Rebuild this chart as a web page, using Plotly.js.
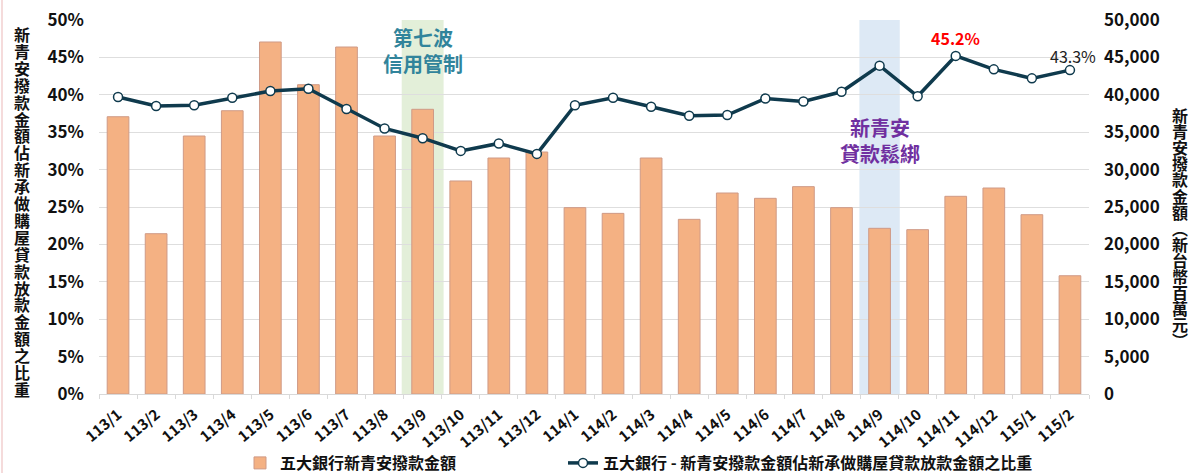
<!DOCTYPE html>
<html>
<head>
<meta charset="utf-8">
<script src="https://cdn.plot.ly/plotly-3.0.1.min.js"></script>
<style>
html,body{margin:0;padding:0;background:#fff;}
#chart{width:1191px;height:473px;}
</style>
</head>
<body>
<div id="chart"></div>
<script>
// ---- data ----
var months = ["113/1","113/2","113/3","113/4","113/5","113/6","113/7","113/8","113/9","113/10","113/11","113/12",
              "114/1","114/2","114/3","114/4","114/5","114/6","114/7","114/8","114/9","114/10","114/11","114/12",
              "115/1","115/2"];
var amountMillion = [37070,21430,34490,37870,47060,41350,46390,34490,38060,28480,31550,32350,
                     24910,24150,31550,23350,26870,26160,27720,24910,22150,21970,26430,27540,
                     23970,15810];
var sharePct = [39.7,38.5,38.6,39.6,40.5,40.8,38.1,35.5,34.2,32.5,33.5,32.1,
                38.6,39.6,38.4,37.2,37.3,39.5,39.1,40.4,43.9,39.8,45.2,43.4,
                42.2,43.3];
var barName = "五大銀行新青安撥款金額";
var lineName = "五大銀行 - 新青安撥款金額佔新承做購屋貸款放款金額之比重";
var leftTitle = "新青安撥款金額佔新承做購屋貸款放款金額之比重";
var rightTitle = "新青安撥款金額︵新台幣百萬元︶";
var policy1 = {month: "113/9", text: "第七波<br>信用管制"};
var policy2 = {month: "114/9", text: "新青安<br>貸款鬆綁"};
var peakLabel = {month: "114/11", text: "45.2%"};
var lastLabel = {month: "115/2", text: "43.3%"};

var FONT = "Noto Sans CJK TC, Noto Sans, sans-serif";
var PX = function(px){ return (px - 99) / 990; };
var PY = function(py){ return (394 - py) / 374; };

var traces = [
  {
    type: "bar", x: months, y: amountMillion, name: barName, yaxis: "y", legend: "legend",
    marker: {color: "#f4b183", line: {color: "#cf9a86", width: 1}},
    hoverinfo: "x+y"
  },
  {
    type: "scatter", mode: "lines+markers", x: months, y: sharePct, name: lineName, yaxis: "y2", legend: "legend2",
    line: {color: "#0f3a4d", width: 3.5},
    marker: {symbol: "circle", size: 9, color: "#ffffff", line: {color: "#0f3a4d", width: 1.5}}
  }
];

var annotations = [];
// vertical titles (one text each, lines tightened after render)
annotations.push({xref: "paper", yref: "paper", x: PX(22), y: PY(20),
  text: Array.from(leftTitle).join("<br>"), showarrow: false, xanchor: "center", yanchor: "top",
  font: {family: FONT, size: 16, color: "#111", weight: 700}});
annotations.push({xref: "paper", yref: "paper", x: PX(1180), y: PY(101),
  text: Array.from(rightTitle).join("<br>"), showarrow: false, xanchor: "center", yanchor: "top",
  font: {family: FONT, size: 16, color: "#111", weight: 700}});

var idx1 = months.indexOf(policy1.month), idx2 = months.indexOf(policy2.month);
annotations.push({x: idx1, xref: "x", y: PY(50), yref: "paper", text: policy1.text, showarrow: false,
  xanchor: "center", yanchor: "middle", font: {family: FONT, size: 20, color: "#31849b", weight: 700}});
annotations.push({x: idx2, xref: "x", y: PY(140), yref: "paper", text: policy2.text, showarrow: false,
  xanchor: "center", yanchor: "middle", font: {family: FONT, size: 20, color: "#7030a0", weight: 700}});
var ip = months.indexOf(peakLabel.month);
annotations.push({x: ip, xref: "x", y: sharePct[ip], yref: "y2", text: peakLabel.text, showarrow: false,
  yshift: 18, xanchor: "center", yanchor: "middle", font: {family: FONT, size: 16, color: "#ff0000", weight: 700}});
var il = months.indexOf(lastLabel.month);
annotations.push({x: il, xref: "x", y: sharePct[il], yref: "y2", text: lastLabel.text, showarrow: false,
  yshift: 14, xshift: 3, xanchor: "center", yanchor: "middle", font: {family: FONT, size: 16, color: "#222"}});

var shapes = [
  {type: "rect", xref: "x", yref: "paper", x0: idx1 - 0.55, x1: idx1 + 0.55, y0: 0, y1: 1,
   fillcolor: "#e3efd9", line: {width: 0}, layer: "below"},
  {type: "rect", xref: "x", yref: "paper", x0: idx2 - 0.53, x1: idx2 + 0.53, y0: 0, y1: 1,
   fillcolor: "#dde9f5", line: {width: 0}, layer: "below"},
  {type: "line", xref: "paper", yref: "paper", x0: PX(2), x1: PX(2), y0: PY(473), y1: PY(0),
   line: {color: "#f2cfcf", width: 1.5}}
];

var layout = {
  width: 1191, height: 473,
  margin: {l: 99, r: 102, t: 20, b: 79, autoexpand: false},
  paper_bgcolor: "#ffffff", plot_bgcolor: "rgba(0,0,0,0)",
  font: {family: FONT, color: "#111"},
  bargap: 0.43,
  xaxis: {
    type: "category", range: [-0.5, months.length - 0.5], autorange: false,
    tickangle: -40, tickson: "boundaries", ticks: "outside", ticklen: 4, ticklabelstandoff: 5,
    tickcolor: "#d9d9d9", showline: true, linecolor: "#d9d9d9", linewidth: 1, showgrid: false,
    tickfont: {family: FONT, size: 15, color: "#111", weight: 700}, automargin: false
  },
  yaxis: {
    side: "right", range: [0, 50000], dtick: 5000, tickformat: ",d", showgrid: true,
    gridcolor: "#dedede", gridwidth: 1, zeroline: false, ticks: "", ticklabelstandoff: 14,
    tickfont: {family: FONT, size: 17, color: "#111", weight: 700}, automargin: false
  },
  yaxis2: {
    overlaying: "y", side: "left", range: [0, 50], dtick: 5, ticksuffix: "%", showgrid: false,
    zeroline: false, ticks: "", ticklabelstandoff: 14,
    tickfont: {family: FONT, size: 17, color: "#111", weight: 700}, automargin: false
  },
  legend: {
    orientation: "h", x: PX(240), xanchor: "left", y: PY(463), yanchor: "middle",
    bgcolor: "rgba(0,0,0,0)", font: {family: FONT, size: 16, color: "#111", weight: 700}
  },
  legend2: {
    orientation: "h", x: PX(563), xanchor: "left", y: PY(463), yanchor: "middle",
    bgcolor: "rgba(0,0,0,0)", font: {family: FONT, size: 16, color: "#111", weight: 700}
  },
  showlegend: true,
  annotations: annotations,
  shapes: shapes
};

// tighten the line pitch of the stacked vertical titles
function tighten(index, pitchPx, sizePx) {
  var lines = document.querySelectorAll('g.annotation[data-index="' + index + '"] text.annotation-text tspan.line');
  lines.forEach(function(t, i){ t.setAttribute("dy", (i * pitchPx / sizePx) + "em"); });
}

Plotly.newPlot("chart", traces, layout, {displayModeBar: false, staticPlot: true}).then(function(){
  tighten(0, 16.9, 16);
  tighten(1, 16.1, 16);
});
</script>
</body>
</html>
